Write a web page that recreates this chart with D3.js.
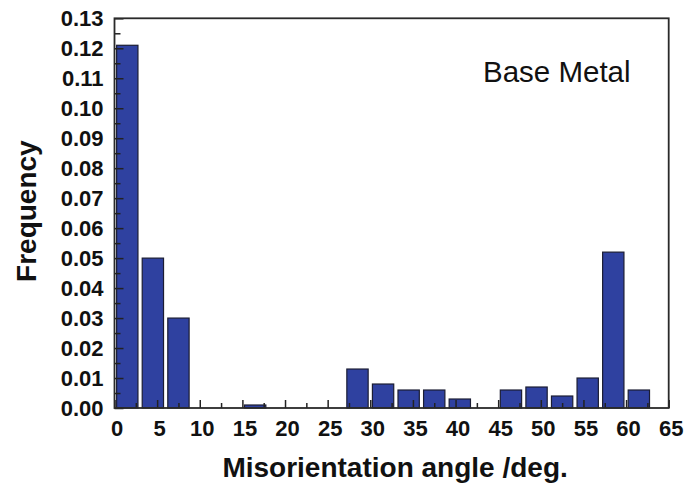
<!DOCTYPE html>
<html>
<head>
<meta charset="utf-8">
<script src="https://cdn.jsdelivr.net/npm/d3@7"></script>
<style>
  html, body { margin: 0; padding: 0; background: #fff; }
  svg { display: block; font-family: "Liberation Sans", Arial, Helvetica, sans-serif; }
</style>
</head>
<body>
<svg id="chart" width="685" height="491"></svg>
<script>
// Misorientation angle bins (3 degree wide), given by their centres
const binCenters = [1.5, 4.5, 7.5, 10.5, 13.5, 16.5, 19.5, 22.5, 25.5, 28.5, 31.5,
                    34.5, 37.5, 40.5, 43.5, 46.5, 49.5, 52.5, 55.5, 58.5, 61.5];
// Frequency of each bin
const frequency = [0.121, 0.050, 0.030, 0.000, 0.000, 0.001, 0.000, 0.000, 0.000, 0.013, 0.008,
                   0.006, 0.006, 0.003, 0.000, 0.006, 0.007, 0.004, 0.010, 0.052, 0.006];
// Axis ticks
const xMajorTicks = [0, 5, 10, 15, 20, 25, 30, 35, 40, 45, 50, 55, 60, 65];
const xMinorTicks = [2.5, 7.5, 12.5, 17.5, 22.5, 27.5, 32.5, 37.5, 42.5, 47.5, 52.5, 57.5, 62.5];
const yMajorTicks = [0, 0.01, 0.02, 0.03, 0.04, 0.05, 0.06, 0.07, 0.08, 0.09, 0.10, 0.11, 0.12, 0.13];
const yMinorTicks = [0.005, 0.015, 0.025, 0.035, 0.045, 0.055, 0.065, 0.075, 0.085, 0.095, 0.105, 0.115, 0.125];

const barWidthDeg = 2.5;
const plot = { left: 114.5, right: 668.7, top: 18.3, bottom: 408 };

const svg = d3.select("#chart");

const x = d3.scaleLinear().domain([0, 65]).range([plot.left, plot.right]);
const y = d3.scaleLinear().domain([0, 0.13]).range([plot.bottom, plot.top]);

// Bars
const rows = binCenters.map((c, i) => ({ c, v: frequency[i] })).filter(d => d.v > 0);
svg.append("g")
  .selectAll("rect")
  .data(rows)
  .join("rect")
  .attr("x", d => x(d.c - barWidthDeg / 2))
  .attr("width", d => x(barWidthDeg) - x(0))
  .attr("y", d => y(d.v))
  .attr("height", d => y(0) - y(d.v))
  .attr("fill", "#2f41a0")
  .attr("stroke", "#1b1d33")
  .attr("stroke-width", 1.2);

// Bottom axis: inward ticks, labelled majors
const gx = svg.append("g").attr("transform", `translate(0,${plot.bottom})`);
gx.call(d3.axisBottom(x).tickValues(xMajorTicks).tickSize(-8).tickPadding(12).tickFormat(d3.format("d")));
gx.append("g").call(d3.axisBottom(x).tickValues(xMinorTicks).tickSize(-5).tickFormat(""));
gx.selectAll(".tick text").attr("dx", 2);

// Left axis
const gy = svg.append("g").attr("transform", `translate(${plot.left},0)`);
gy.call(d3.axisLeft(y).tickValues(yMajorTicks).tickSize(-9).tickPadding(11).tickFormat(d3.format(".2f")));
gy.append("g").call(d3.axisLeft(y).tickValues(yMinorTicks).tickSize(-6).tickFormat(""));

svg.selectAll(".domain").remove();
svg.selectAll(".tick line").attr("stroke", "#222").attr("stroke-width", 1.5);
svg.selectAll(".tick text")
  .attr("fill", "#111")
  .style("font-size", "22px")
  .style("font-weight", "bold");

// Plot frame
svg.append("rect")
  .attr("x", plot.left).attr("y", plot.top)
  .attr("width", plot.right - plot.left).attr("height", plot.bottom - plot.top)
  .attr("fill", "none").attr("stroke", "#2a2a2a").attr("stroke-width", 1.8);

// Titles
svg.append("text")
  .attr("x", (plot.left + plot.right) / 2 + 3.5).attr("y", 477)
  .attr("text-anchor", "middle")
  .style("font-size", "28px").style("font-weight", "bold").attr("fill", "#111")
  .text("Misorientation angle /deg.");

svg.append("text")
  .attr("transform", `translate(36,${(plot.top + plot.bottom) / 2 - 2}) rotate(-90)`)
  .attr("text-anchor", "middle")
  .style("font-size", "28px").style("font-weight", "bold").attr("fill", "#111")
  .text("Frequency");

svg.append("text")
  .attr("x", 483).attr("y", 82)
  .style("font-size", "29.5px").attr("fill", "#111")
  .text("Base Metal");
</script>
</body>
</html>
